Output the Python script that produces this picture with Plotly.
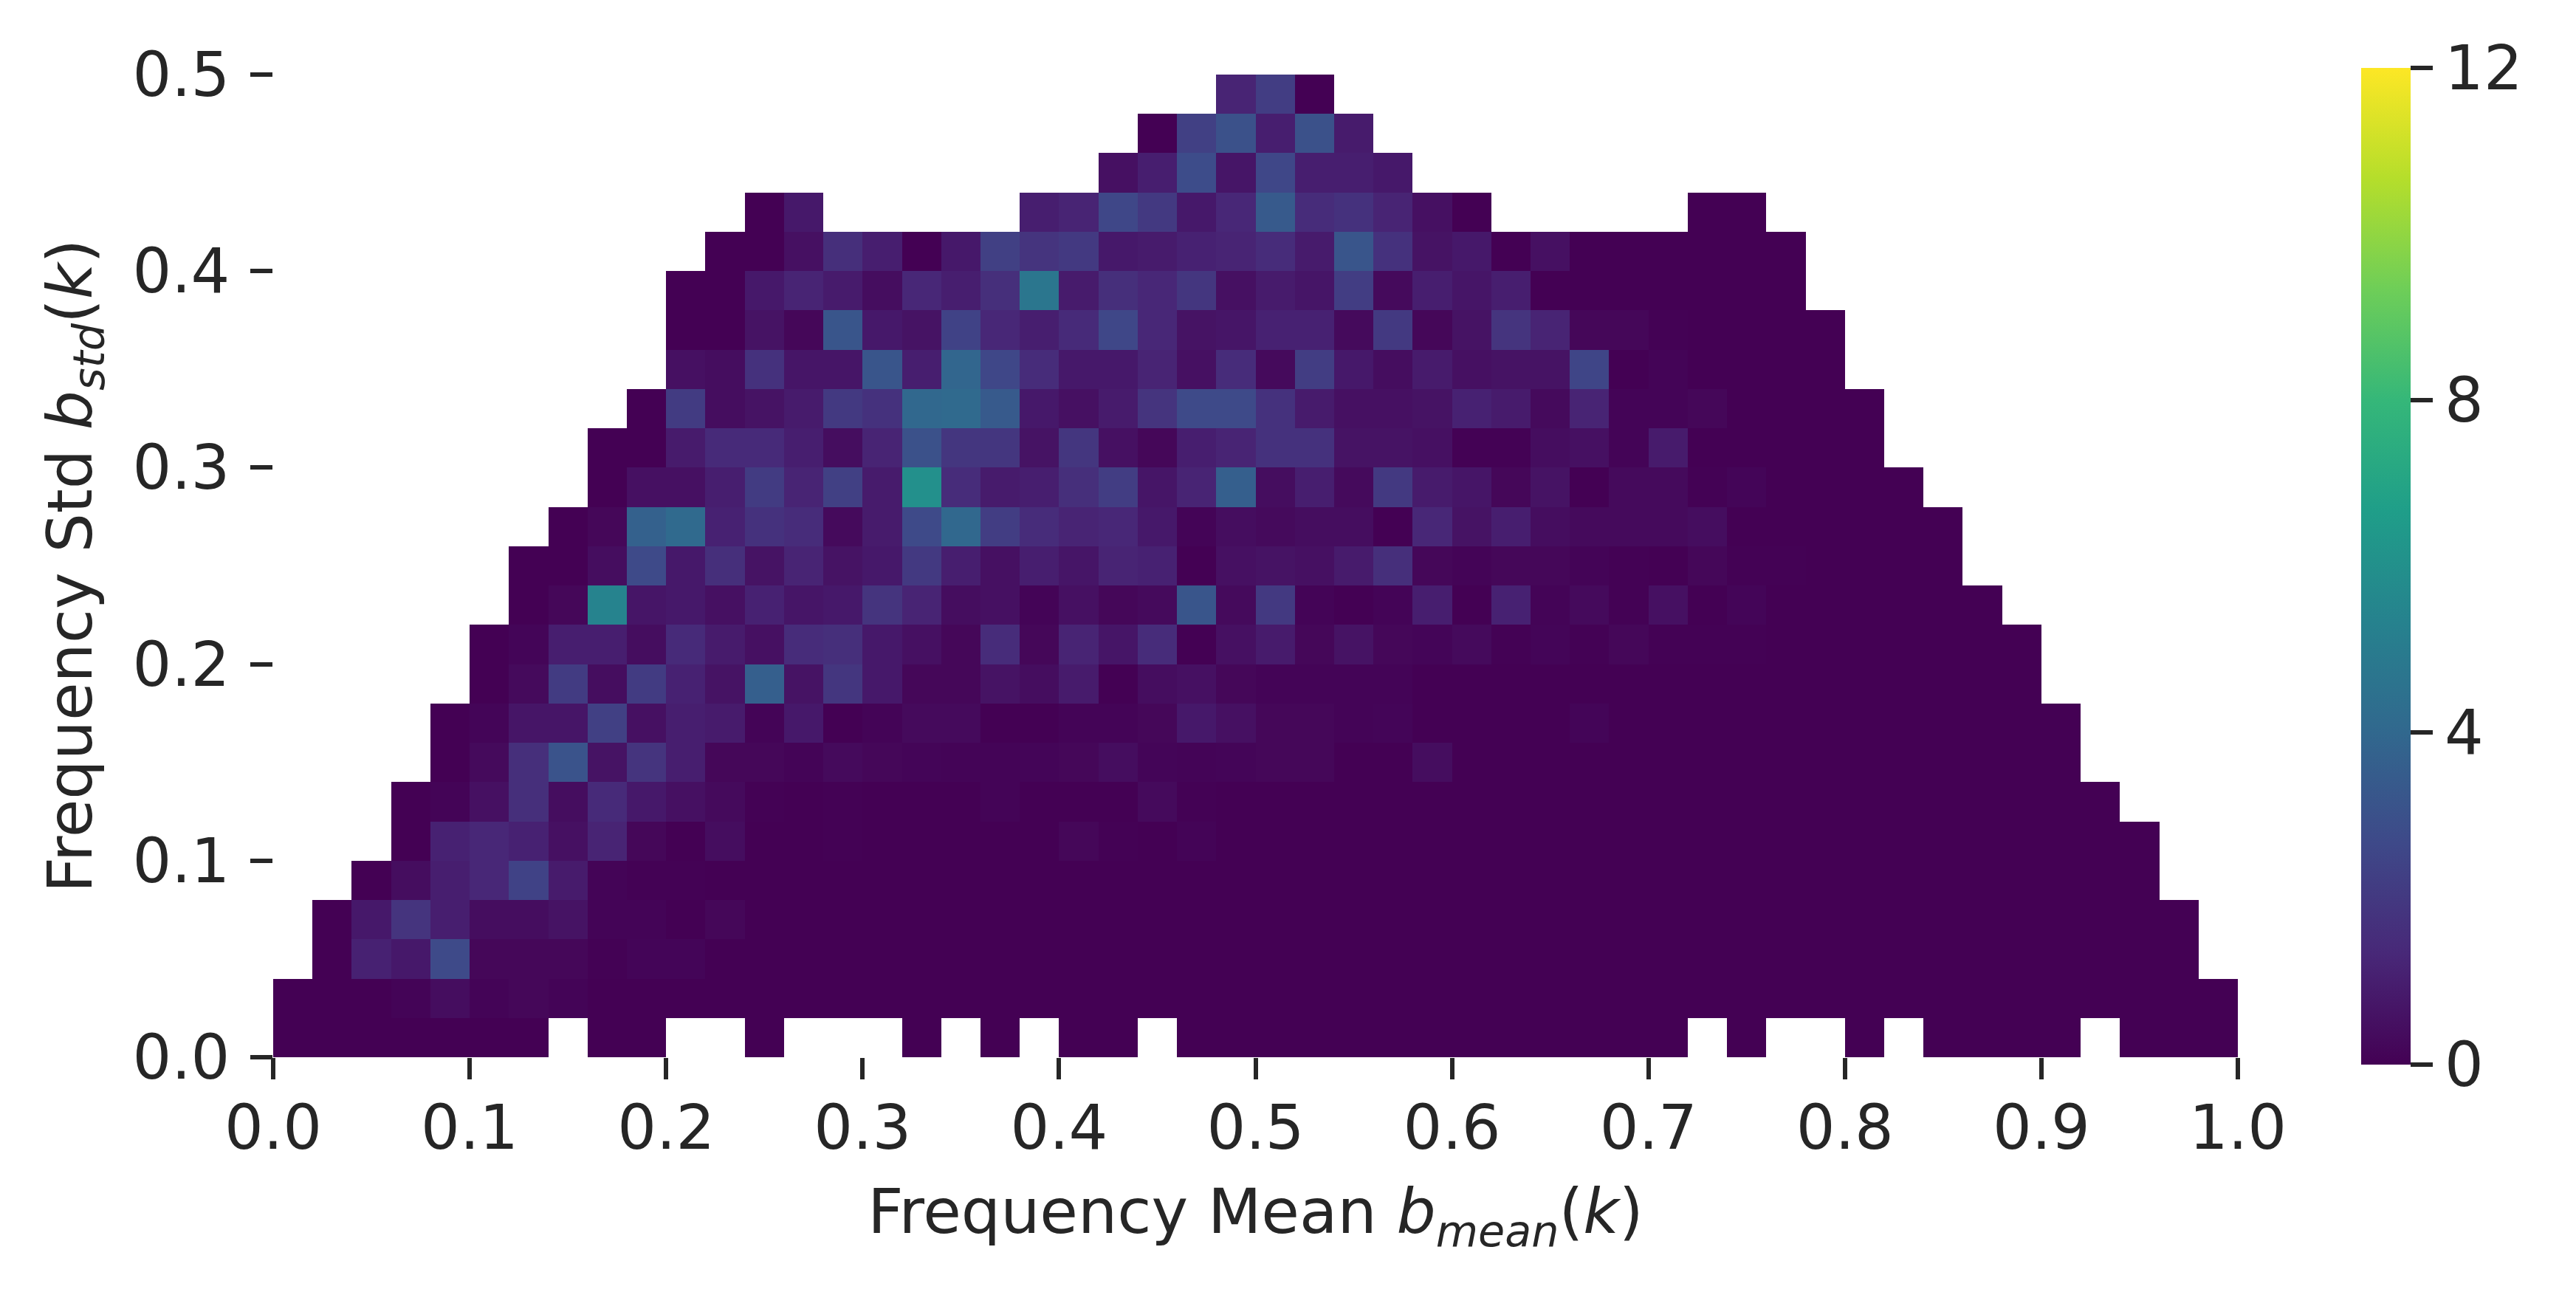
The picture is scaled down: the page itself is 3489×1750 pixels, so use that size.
import plotly.graph_objects as go

_ = None

# each row is one std bin (row_00 = 0.00-0.02), values start at its first bin, the rest up to last bin is 0
row_24 = [1.2, 2.2, 0]
row_23 = [0, 2.3, 3, 1, 3, 0.9]
row_22 = [0.5, 1, 2.8, 0.7, 2.6, 1, 1, 0.8]
row_21 = [0, 0.8, _, _, _, _, _, 1, 1.2, 2.6, 2, 0.8, 1.3, 3.4, 1.5, 1.7, 1.2, 0.5, 0, _, _, _, _, _, 0, 0]
row_20 = [0, 0, 0.5, 1.6, 1, 0, 0.8, 2.3, 1.8, 2, 0.8, 0.9, 1.1, 1.2, 1.5, 0.9, 3.2, 1.7, 0.6, 0.8, 0, 0.5]
row_19 = [0, 0, 0.8, 1.2, 0.9, 0.4, 1.3, 1, 1.6, 4.7, 0.9, 1.6, 1.3, 1.9, 0.5, 0.9, 0.7, 2.2, 0.3, 1, 0.7, 1]
row_18 = [0, 0, 0.6, 0.2, 3.2, 0.8, 0.6, 2.4, 1.3, 1, 1.4, 2.6, 1.3, 0.6, 0.7, 1.1, 1.1, 0.3, 2, 0.2, 0.6, 1.8, 1.2,
          0.2, 0.2, 0.05]
row_17 = [0.5, 0.4, 1.7, 0.7, 0.7, 3.2, 1, 3.9, 2.6, 1.5, 0.8, 0.8, 1.2, 0.5, 1.5, 0.3, 2.2, 0.8, 0.4, 0.9, 0.5, 0.6,
          0.6, 2.5, 0, 0.1]
row_16 = [0, 2.1, 0.4, 0.6, 0.9, 2, 1.7, 4, 4.1, 3.4, 0.8, 0.5, 0.9, 1.8, 2.7, 2.7, 1.7, 0.9, 0.5, 0.5, 0.6, 1.1, 0.9,
          0.3, 1.2, 0.1, 0.1, 0.2]
row_15 = [0, 0, 0.9, 1.4, 1.4, 1, 0.4, 1.2, 3, 1.9, 1.9, 0.6, 1.9, 0.5, 0.2, 1, 1.2, 1.7, 1.7, 0.6, 0.6, 0.5, 0.05,
          0.05, 0.4, 0.5, 0.1, 0.9]
row_14 = [0, 0.5, 0.5, 1, 2.1, 1.2, 2.3, 0.9, 6, 1.5, 0.9, 1, 1.6, 2.2, 0.7, 1.2, 3.6, 0.4, 1, 0.3, 2, 0.9, 0.7, 0.2,
          0.6, 0, 0.3, 0.3, 0.05, 0.15]
row_13 = [0, 0.2, 3.7, 4.1, 1.1, 1.7, 1.5, 0.3, 0.9, 2.7, 4, 2.2, 1.5, 1.2, 1.3, 0.8, 0.1, 0.4, 0.3, 0.4, 0.4, 0, 1.3,
          0.6, 1, 0.4, 0.3, 0.3, 0.3, 0.4]
row_12 = [0, 0, 0.4, 2.7, 0.8, 1.6, 0.6, 1.2, 0.6, 0.8, 2, 1, 0.5, 1, 0.7, 1.2, 1.1, 0, 0.5, 0.6, 0.5, 0.9, 1.6, 0.2,
          0.1, 0.2, 0.2, 0.1, 0.05, 0, 0.2, 0.05, 0.05]
row_11 = [0, 0.2, 5.4, 0.7, 0.8, 0.5, 1.1, 0.7, 0.8, 1.8, 1.2, 0.4, 0.5, 0.1, 0.5, 0.2, 0.3, 3.2, 0.3, 2, 0.1, 0, 0.1,
          1, 0, 1.1, 0.1, 0.3, 0.05, 0.5, 0, 0.15]
row_10 = [0, 0.15, 1, 1, 0.4, 1.4, 0.9, 0.5, 1.5, 1.6, 0.8, 0.5, 0.2, 1.5, 0.2, 1.2, 0.7, 1.5, 0, 0.5, 0.9, 0.2, 0.6,
          0.2, 0.15, 0.3, 0.05, 0.15, 0.05, 0.2, 0.05, 0.05, 0.05]
row_09 = [0, 0.3, 2.1, 0.4, 2.1, 1.1, 0.6, 3.6, 0.6, 1.9, 0.8, 0.2, 0.2, 0.6, 0.4, 0.9, 0, 0.4, 0.5, 0.2, 0.1, 0.1,
          0.1, 0.1]
row_08 = [0, 0.15, 0.7, 0.7, 2.3, 0.5, 1, 0.9, 0.1, 0.8, 0, 0.1, 0.3, 0.3, 0, 0, 0.1, 0.1, 0.2, 0.8, 0.5, 0.2, 0.2,
          0.1, 0.15, 0, 0, 0, 0, 0.15]
row_07 = [0, 0.3, 1.6, 3.1, 0.6, 1.8, 1, 0.2, 0.2, 0.1, 0.3, 0.2, 0.15, 0.1, 0.1, 0.15, 0.2, 0.4, 0.15, 0.1, 0.15,
          0.2, 0.2, 0, 0, 0.4]
row_06 = [0, 0.1, 0.5, 1.6, 0.4, 1.4, 0.8, 0.5, 0.3, 0.05, 0, 0.05, 0, 0, 0, 0.1, 0, 0, 0, 0.3, 0.03]
row_05 = [0, 1.1, 1.3, 1.1, 0.5, 1.2, 0.2, 0, 0.4, 0, 0, 0.05, 0, 0, 0, 0, 0, 0.2, 0.05, 0, 0.1]
row_04 = [0, 0.4, 1, 1.3, 2.4, 0.9, 0.1, 0.05, 0.03]
row_03 = [0, 0.8, 1.8, 1, 0.4, 0.4, 0.6, 0.1, 0.1, 0, 0.2]
row_02 = [0, 1.1, 0.8, 2.7, 0.2, 0.2, 0.2, 0.05, 0.15, 0.15]
row_01 = [0, 0, 0, 0.1, 0.4, 0.1, 0.2, 0.1]
row_00 = [0, 0, 0, 0, 0, 0, 0, _, 0, 0, _, _, 0, _, _, _, 0, _, 0, _, 0, 0, _, 0, 0, 0, 0, 0, 0, 0, 0, 0, 0, 0, 0, 0,
          _, 0, _, _, 0, _, 0, 0, 0, 0, _, 0, 0, 0]

rows = [row_00, row_01, row_02, row_03, row_04, row_05, row_06, row_07, row_08, row_09, row_10, row_11, row_12,
        row_13, row_14, row_15, row_16, row_17, row_18, row_19, row_20, row_21, row_22, row_23, row_24]
first_bin = [0, 0, 1, 1, 2, 3, 3, 4, 4, 5, 5, 6, 6, 7, 8, 8, 9, 10, 10, 10, 11, 12, 21, 22, 24]
last_bin = [49, 49, 48, 48, 47, 47, 46, 45, 45, 44, 44, 43, 42, 42, 41, 40, 40, 39, 39, 38, 38, 37, 28, 27, 26]

x_ticks = [0.0, 0.1, 0.2, 0.3, 0.4, 0.5, 0.6, 0.7, 0.8, 0.9, 1.0]
y_ticks = [0.0, 0.1, 0.2, 0.3, 0.4, 0.5]
cbar_ticks = [0, 4, 8, 12]

TEXT = '#262626'

z = []
for values, first, last in zip(rows, first_bin, last_bin):
    row = [None] * first + values + [0] * (last - first + 1 - len(values))
    z.append(row + [None] * (50 - len(row)))

fig = go.Figure()

fig.add_trace(go.Heatmap(z=z,
                         x0=0.01, dx=0.02,
                         y0=0.01, dy=0.02,
                         zmin=0, zmax=12,
                         colorscale='Viridis',
                         hoverongaps=False,
                         colorbar=dict(x=1.0627, xanchor='left', xpad=0,
                                       y=0.4995, yanchor='middle', ypad=0,
                                       thickness=67, thicknessmode='pixels',
                                       len=1350, lenmode='pixels',
                                       outlinewidth=0,
                                       tickvals=cbar_ticks,
                                       tickprefix='\u2002',
                                       ticks='outside', ticklen=30, tickwidth=6, tickcolor=TEXT,
                                       tickfont=dict(size=83, color=TEXT))))

fig.update_layout(width=3489, height=1750,
                  autosize=False,
                  margin=dict(l=369.5, r=458, t=100.7, b=318, pad=0),
                  paper_bgcolor='white',
                  plot_bgcolor='white',
                  font=dict(family='DejaVu Sans', size=83, color=TEXT),
                  xaxis=dict(range=[0, 1],
                             tickvals=x_ticks, tickformat='.1f',
                             ticks='outside', ticklen=29, tickwidth=6, tickcolor=TEXT,
                             ticklabelstandoff=-6,
                             showgrid=False, zeroline=False, showline=False,
                             title=dict(text='Frequency Mean <i>b<sub>mean</sub></i>(<i>k</i>)',
                                        font=dict(size=84), standoff=36)),
                  yaxis=dict(range=[0, 0.5],
                             tickvals=y_ticks, tickformat='.1f',
                             ticks='outside', ticklen=30, tickwidth=6, tickcolor=TEXT,
                             ticklabelstandoff=11,
                             showgrid=False, zeroline=False, showline=False,
                             title=dict(text='Frequency Std <i>b<sub>std</sub></i>(<i>k</i>)',
                                        font=dict(size=84), standoff=27)))

fig.write_html("out.html", config={'displayModeBar': False},
               post_script="document.body.style.margin='0';")
